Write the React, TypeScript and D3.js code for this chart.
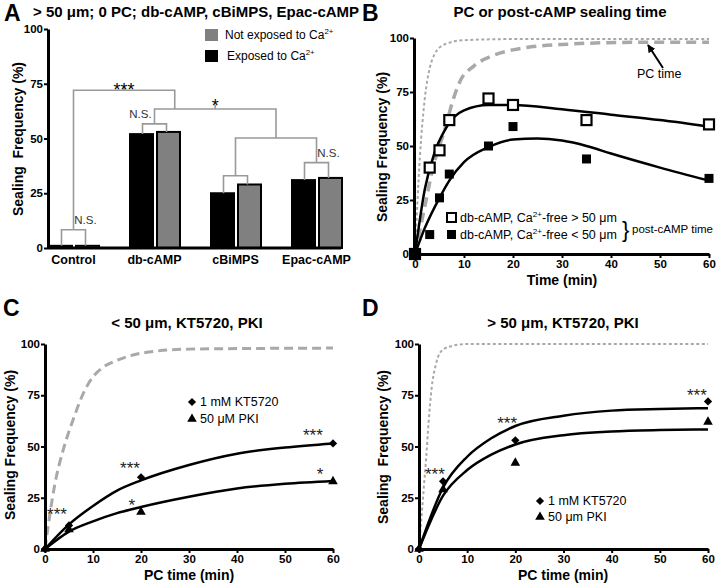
import { useEffect, useRef } from "react";
import * as d3 from "d3";

type Pt = [number, number];
type Star = { t: number; v: number; s: string };

const SANS = "'Liberation Sans', Arial, Helvetica, sans-serif";
const NARROW = "'Liberation Sans Narrow', 'Liberation Sans', Arial, sans-serif";
const GRAY = "#a9a9a9";

// ---------- panel A ----------
const groups = ["Control", "db-cAMP", "cBiMPS", "Epac-cAMP"];
const exposedCa = [1, 52, 25, 31];
const notExposedCa = [1, 53, 29, 32];
const pairLevel = [8.3, 56.7, 33, 39];
const pairNote = ["N.S.", "N.S.", "", "N.S."];
const pctTicks = [0, 25, 50, 75, 100];
const minTicks = [0, 10, 20, 30, 40, 50, 60];

// ---------- panel B ----------
const bTime = [0, 3, 5, 7, 15, 20, 35, 60];
const bAbove50 = [0, 40, 48, 62, 72, 69, 62, 60];
const bBelow50 = [0, 9, 26, 37, 50, 59, 44, 35];
const bFitAbove: Pt[] = [[0, 0], [2, 30], [4, 47], [6, 57], [8, 63.5], [10, 66.5], [15, 69], [20, 69], [30, 67], [40, 64.5], [50, 62], [60, 59]];
const bFitBelow: Pt[] = [[0, 0], [2, 12], [5, 26], [7, 34], [10, 42.5], [15, 49.5], [20, 53], [25, 53.5], [30, 52.5], [35, 50], [40, 46.5], [50, 40], [60, 34]];
const bPcShort: Pt[] = [[0, 0], [1, 45], [2, 72], [3, 86], [4, 92.5], [6, 97], [10, 99], [20, 99.5], [60, 99.5]];
const bPcLong: Pt[] = [[0, 0], [2, 22], [4, 43], [5, 50], [6, 57], [8, 73], [9.2, 80], [12, 87], [16, 92], [20, 94.5], [30, 97], [45, 98], [60, 98]];

// ---------- panel C ----------
const cTime = [0, 5, 20, 60];
const cKT5720 = [0, 11.5, 35, 51.5];
const cPKI = [0, 9.5, 18, 33];
const cFitKT: Pt[] = [[0, 0], [5, 12], [10, 21], [15, 28.5], [20, 33.5], [30, 41], [40, 46.5], [50, 49.5], [60, 51.5]];
const cFitPKI: Pt[] = [[0, 0], [5, 8.5], [10, 13.5], [15, 17.5], [20, 20.5], [30, 25.5], [40, 29.5], [50, 31.8], [60, 33.2]];
const cPcLong: Pt[] = [[0, 0], [2, 31], [4, 50], [6, 64], [8, 76], [10, 84], [12, 88.5], [15, 92], [20, 95.5], [30, 97.5], [60, 98]];
const cStars: Star[] = [
  { t: 2.5, v: 14, s: "***" },
  { t: 17.7, v: 36.6, s: "***" },
  { t: 18.1, v: 18.5, s: "*" },
  { t: 55.8, v: 52.7, s: "***" },
  { t: 57.3, v: 33.7, s: "*" },
];

// ---------- panel D ----------
const dTime = [0, 5, 20, 60];
const dKT5720 = [0, 33, 53, 72];
const dPKI = [0, 29, 42, 62];
const dFitKT: Pt[] = [[0, 0], [5, 30], [10, 45], [15, 54], [20, 60], [30, 65], [40, 67.5], [50, 68.3], [60, 68.7]];
const dFitPKI: Pt[] = [[0, 0], [5, 26], [10, 38.5], [15, 46], [20, 51], [30, 55.5], [40, 57.3], [50, 58], [60, 58.3]];
const dPcShort: Pt[] = [[0, 0], [0.5, 15], [1, 30], [1.5, 45], [2, 62], [2.6, 78], [3.5, 90], [4.3, 95.5], [6, 98.5], [10, 100], [60, 100]];
const dStars: Star[] = [
  { t: 3.3, v: 33.7, s: "***" },
  { t: 18.3, v: 58.5, s: "***" },
  { t: 57.7, v: 72.2, s: "***" },
];

const styleAxis = (g: any) => {
  g.select(".domain").attr("stroke", "#000").attr("stroke-width", 3);
  g.selectAll(".tick line").attr("stroke", "#000").attr("stroke-width", 2);
  g.selectAll(".tick text")
    .attr("fill", "#000")
    .attr("font-family", NARROW)
    .attr("font-weight", "bold")
    .attr("font-size", 11.5);
};

const leftAxis = (svg: any, y: any, x0: number) => {
  const g = svg
    .append("g")
    .attr("transform", `translate(${x0},0)`)
    .call(d3.axisLeft(y).tickValues(pctTicks).tickSize(4).tickSizeOuter(0).tickPadding(1));
  styleAxis(g);
};

const bottomAxis = (svg: any, x: any, y0: number) => {
  const g = svg
    .append("g")
    .attr("transform", `translate(0,${y0})`)
    .call(d3.axisBottom(x).tickValues(minTicks).tickSize(4).tickSizeOuter(0).tickPadding(2));
  styleAxis(g);
};

const label = (svg: any, x: number, y: number, txt: string, size: number, opts: any = {}) =>
  svg
    .append("text")
    .attr("x", x)
    .attr("y", y)
    .attr("font-family", opts.family || SANS)
    .attr("font-weight", opts.weight || "normal")
    .attr("font-size", size)
    .attr("text-anchor", opts.anchor || "start")
    .attr("fill", opts.fill || "#000")
    .text(txt);

// text with "2+" superscripts: parts alternate normal / super
const supText = (svg: any, x: number, y: number, parts: string[], size: number) => {
  const t = svg
    .append("text")
    .attr("x", x)
    .attr("y", y)
    .attr("font-family", SANS)
    .attr("font-size", size)
    .attr("fill", "#000");
  parts.forEach((p, i) => {
    const sup = i % 2 === 1;
    t.append("tspan")
      .attr("dy", sup ? -5 : i > 0 ? 5 : 0)
      .attr("font-size", sup ? size * 0.65 : size)
      .text(p);
  });
};

const yTitle = (svg: any, x: number, y: number, txt: string) =>
  svg
    .append("text")
    .attr("transform", `translate(${x},${y}) rotate(-90)`)
    .attr("text-anchor", "middle")
    .attr("font-family", SANS)
    .attr("font-weight", "bold")
    .attr("font-size", 14)
    .text(txt);

const curve = (svg: any, pts: Pt[], x: any, y: any, stroke: string, width: number, dash?: string) => {
  const line = d3
    .line<Pt>()
    .x((d) => x(d[0]))
    .y((d) => y(d[1]))
    .curve(d3.curveMonotoneX);
  svg
    .append("path")
    .attr("d", line(pts))
    .attr("fill", "none")
    .attr("stroke", stroke)
    .attr("stroke-width", width)
    .attr("stroke-dasharray", dash || null);
};

// rotated square for the diamond marker
const diamond = d3.symbol().type(d3.symbolSquare).size(34);
const triangle = d3.symbol().type(d3.symbolTriangle).size(40);

const drawA = (svg: any) => {
  const x = d3.scalePoint<string>().domain(groups).range([73.5, 316.5]);
  const y = d3.scaleLinear().domain([0, 100]).range([248, 29]);
  const bw = 23;

  label(svg, 4, 21, "A", 23, { weight: "bold" });
  label(svg, 33, 17, "> 50 \u03bcm; 0 PC; db-cAMP, cBiMPS, Epac-cAMP", 15, { weight: "bold" });

  // bars
  svg
    .append("g")
    .selectAll("rect")
    .data(groups)
    .join("rect")
    .attr("x", (d: string) => x(d)! - bw - 1.5)
    .attr("y", (d: string, i: number) => y(exposedCa[i]))
    .attr("width", bw)
    .attr("height", (d: string, i: number) => y(0) - y(exposedCa[i]))
    .attr("fill", "#000")
    .attr("stroke", "#000")
    .attr("stroke-width", 2);
  svg
    .append("g")
    .selectAll("rect")
    .data(groups)
    .join("rect")
    .attr("x", (d: string) => x(d)! + 2.5)
    .attr("y", (d: string, i: number) => y(notExposedCa[i]))
    .attr("width", bw)
    .attr("height", (d: string, i: number) => y(0) - y(notExposedCa[i]))
    .attr("fill", "#808080")
    .attr("stroke", "#000")
    .attr("stroke-width", 2);

  // brackets
  const br = svg.append("g").attr("fill", "none").attr("stroke", "#999").attr("stroke-width", 1.6);
  const bracket = (x1: number, b1: number, x2: number, b2: number, lv: number) =>
    br.append("path").attr("d", `M${x1},${y(b1)}V${y(lv)}H${x2}V${y(b2)}`);
  groups.forEach((g, i) => {
    const cx = x(g)!;
    bracket(cx - 12, exposedCa[i], cx + 12, notExposedCa[i], pairLevel[i]);
  });
  const cB = x("cBiMPS")!;
  const cE = x("Epac-cAMP")!;
  const cD = x("db-cAMP")!;
  const cC = x("Control")!;
  const step = x.step();
  bracket(cB, pairLevel[2], cE, pairLevel[3], 50.2);
  const mid1 = (cB + cE) / 2;
  bracket(cD, pairLevel[1], mid1, 50.2, 63.5);
  const mid2 = (cD + mid1) / 2;
  br.append("path").attr("d", `M${mid2},${y(63.5)}V${y(63.5) - 4}`);
  const right3 = cD + step * 0.25;
  bracket(cC, pairLevel[0], right3, 63.5, 72);
  const mid3 = (cC + right3) / 2;
  br.append("path").attr("d", `M${mid3},${y(72)}V${y(72) - 4}`);

  label(svg, mid3, y(72) + 6, "***", 18, { anchor: "middle" });
  label(svg, mid2, y(63.5) + 3, "*", 18, { anchor: "middle" });
  const nsShift = [12, -14, 0, 12];
  groups.forEach((g, i) => {
    if (!pairNote[i]) return;
    label(svg, x(g)! + nsShift[i], y(pairLevel[i]) - 6, pairNote[i], 11.5, { anchor: "middle", fill: "#333" });
  });

  // axes
  leftAxis(svg, y, 48);
  svg.append("line").attr("x1", 48).attr("x2", 341).attr("y1", y(0)).attr("y2", y(0)).attr("stroke", "#000").attr("stroke-width", 3);
  svg
    .append("g")
    .selectAll("text")
    .data(groups)
    .join("text")
    .attr("x", (d: string) => x(d)!)
    .attr("y", 264)
    .attr("text-anchor", "middle")
    .attr("font-family", SANS)
    .attr("font-weight", "bold")
    .attr("font-size", 12.5)
    .text((d: string) => d);
  yTitle(svg, 23, 139, "Sealing\u00a0 Frequency (%)");

  // legend
  svg.append("rect").attr("x", 205).attr("y", 29).attr("width", 13).attr("height", 12).attr("fill", "#808080");
  svg.append("rect").attr("x", 205).attr("y", 50).attr("width", 13).attr("height", 12).attr("fill", "#000");
  supText(svg, 225, 39, ["Not exposed to Ca", "2+"], 12);
  supText(svg, 227, 60, ["Exposed to Ca", "2+"], 12);
};

const drawB = (svg: any) => {
  const x = d3.scaleLinear().domain([0, 60]).range([415, 709]);
  const y = d3.scaleLinear().domain([0, 100]).range([254, 38]);

  label(svg, 362, 21, "B", 23, { weight: "bold" });
  label(svg, 560, 17, "PC or post-cAMP sealing time", 15, { weight: "bold", anchor: "middle" });

  curve(svg, bPcShort, x, y, GRAY, 2, "3,2.5");
  curve(svg, bPcLong, x, y, GRAY, 3.5, "10,6");
  curve(svg, bFitAbove, x, y, "#000", 2.5);
  curve(svg, bFitBelow, x, y, "#000", 2.5);

  svg
    .append("g")
    .selectAll("rect")
    .data(bTime)
    .join("rect")
    .attr("x", (d: number) => x(d) - 4.5)
    .attr("y", (d: number, i: number) => y(bBelow50[i]) - 4.5)
    .attr("width", 9)
    .attr("height", 9)
    .attr("fill", "#000");
  svg
    .append("g")
    .selectAll("rect")
    .data(bTime)
    .join("rect")
    .attr("x", (d: number) => x(d) - 5)
    .attr("y", (d: number, i: number) => y(bAbove50[i]) - 5)
    .attr("width", 10)
    .attr("height", 10)
    .attr("fill", (d: number) => (d === 0 ? "#000" : "#fff"))
    .attr("stroke", "#000")
    .attr("stroke-width", 2.2);

  leftAxis(svg, y, 414);
  bottomAxis(svg, x, 254);
  yTitle(svg, 387, 147, "Sealing Frequency (%)");
  label(svg, 562, 285, "Time (min)", 14, { weight: "bold", anchor: "middle" });

  // PC time arrow
  svg
    .append("defs")
    .append("marker")
    .attr("id", "arr")
    .attr("viewBox", "0 0 10 10")
    .attr("refX", 9)
    .attr("refY", 5)
    .attr("markerWidth", 4)
    .attr("markerHeight", 4)
    .attr("orient", "auto")
    .append("path")
    .attr("d", "M0,0L10,5L0,10z")
    .attr("fill", "#000");
  svg
    .append("line")
    .attr("x1", 663)
    .attr("y1", 68)
    .attr("x2", 648)
    .attr("y2", 45)
    .attr("stroke", "#000")
    .attr("stroke-width", 2)
    .attr("marker-end", "url(#arr)");
  label(svg, 637, 78, "PC time", 12.5);

  // legend
  svg.append("rect").attr("x", 447).attr("y", 213).attr("width", 9).attr("height", 9).attr("fill", "#fff").attr("stroke", "#000").attr("stroke-width", 2);
  svg.append("rect").attr("x", 447).attr("y", 230).attr("width", 9).attr("height", 9).attr("fill", "#000");
  supText(svg, 460, 222, ["db-cAMP, Ca", "2+", "-free > 50 \u03bcm"], 12.5);
  supText(svg, 460, 239, ["db-cAMP, Ca", "2+", "-free < 50 \u03bcm"], 12.5);
  label(svg, 622, 237, "}", 22);
  label(svg, 632, 233, "post-cAMP time", 11.5);
};

const drawKinetics = (
  svg: any,
  x: any,
  y: any,
  times: number[],
  kt: number[],
  pki: number[],
  stars: Star[]
) => {
  svg
    .append("g")
    .selectAll("path")
    .data(times)
    .join("path")
    .attr("transform", (d: number, i: number) => `translate(${x(d)},${y(pki[i])})`)
    .attr("d", triangle)
    .attr("fill", "#000");
  svg
    .append("g")
    .selectAll("path")
    .data(times)
    .join("path")
    .attr("transform", (d: number, i: number) => `translate(${x(d)},${y(kt[i])}) rotate(45)`)
    .attr("d", diamond)
    .attr("fill", "#000");
  stars.forEach((s) => label(svg, x(s.t), y(s.v), s.s, 17, { anchor: "middle", fill: "#222" }));
};

const drawC = (svg: any) => {
  const x = d3.scaleLinear().domain([0, 60]).range([45, 333]);
  const y = d3.scaleLinear().domain([0, 100]).range([549, 344]);

  label(svg, 3, 316, "C", 23, { weight: "bold" });
  label(svg, 187, 328, "< 50 \u03bcm, KT5720, PKI", 15, { weight: "bold", anchor: "middle" });

  curve(svg, cPcLong, x, y, GRAY, 3, "9,5");
  curve(svg, cFitKT, x, y, "#000", 2.5);
  curve(svg, cFitPKI, x, y, "#000", 2.5);
  drawKinetics(svg, x, y, cTime, cKT5720, cPKI, cStars);

  leftAxis(svg, y, 45);
  bottomAxis(svg, x, 549);
  yTitle(svg, 15, 445, "Sealing Frequency (%)");
  label(svg, 189, 580, "PC time (min)", 14, { weight: "bold", anchor: "middle" });

  svg.append("path").attr("transform", "translate(192,402) rotate(45)").attr("d", diamond).attr("fill", "#000");
  svg.append("path").attr("transform", "translate(192,419)").attr("d", triangle).attr("fill", "#000");
  label(svg, 200, 406, "1 mM KT5720", 12.5);
  label(svg, 200, 423, "50 \u03bcM PKI", 12.5);
};

const drawD = (svg: any) => {
  const x = d3.scaleLinear().domain([0, 60]).range([419, 708]);
  const y = d3.scaleLinear().domain([0, 100]).range([549, 344]);

  label(svg, 362, 316, "D", 23, { weight: "bold" });
  label(svg, 563, 328, "> 50 \u03bcm, KT5720, PKI", 15, { weight: "bold", anchor: "middle" });

  curve(svg, dPcShort, x, y, GRAY, 2, "3,2.5");
  curve(svg, dFitKT, x, y, "#000", 2.5);
  curve(svg, dFitPKI, x, y, "#000", 2.5);
  drawKinetics(svg, x, y, dTime, dKT5720, dPKI, dStars);

  leftAxis(svg, y, 419);
  bottomAxis(svg, x, 549);
  yTitle(svg, 388, 447, "Sealing\u00a0 Frequency (%)");
  label(svg, 563, 580, "PC time (min)", 14, { weight: "bold", anchor: "middle" });

  svg.append("path").attr("transform", "translate(540,501) rotate(45)").attr("d", diamond).attr("fill", "#000");
  svg.append("path").attr("transform", "translate(540,517)").attr("d", triangle).attr("fill", "#000");
  label(svg, 548, 505, "1 mM KT5720", 12.5);
  label(svg, 548, 521, "50 \u03bcm PKI", 12.5);
};

const App = () => {
  const ref = useRef<SVGSVGElement>(null);

  useEffect(() => {
    document.body.style.margin = "0";
    const svg = d3.select(ref.current);
    svg.selectAll("*").remove();
    drawA(svg);
    drawB(svg);
    drawC(svg);
    drawD(svg);
  }, []);

  return <svg ref={ref} width={720} height={586} style={{ display: "block", background: "#fff" }} />;
};

export default App;
